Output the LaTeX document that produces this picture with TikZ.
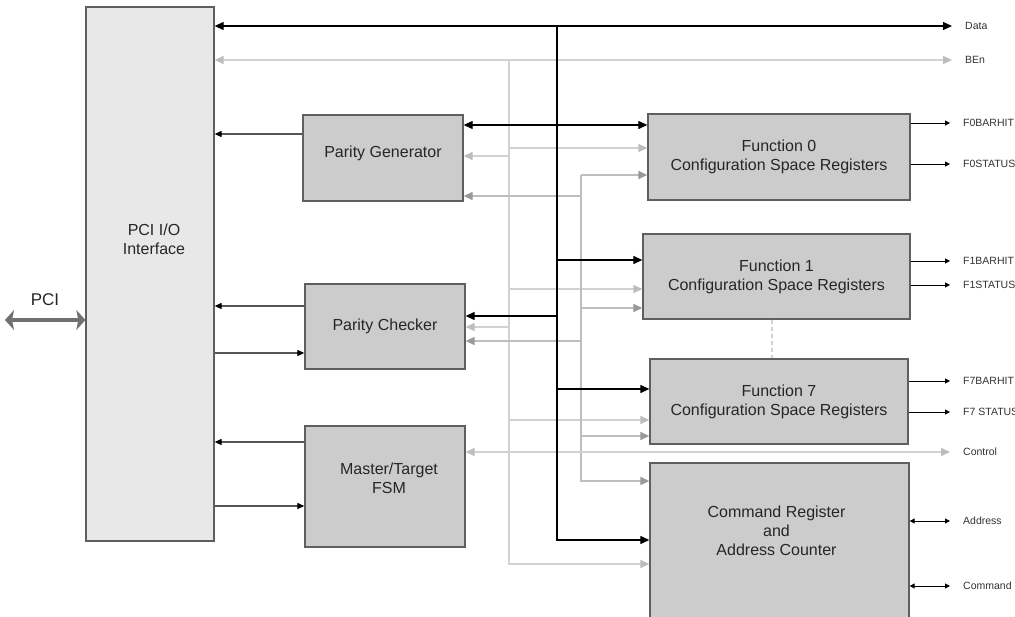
\documentclass[tikz,border=0pt]{standalone}
\usepackage{fontspec}
\setmainfont{Liberation Sans}
\usetikzlibrary{arrows, arrows.meta}
\usetikzlibrary{positioning}
\definecolor{boxgray}{HTML}{CCCCCC}
\definecolor{iogray}{HTML}{E8E8E8}
\definecolor{edgegray}{HTML}{5F5F5F}
\definecolor{wiregray}{HTML}{555555}
\definecolor{bengray}{HTML}{D2D2D2}
\definecolor{bentip}{HTML}{BDBDBD}
\definecolor{midgray}{HTML}{BEBEBE}
\definecolor{midtip}{HTML}{999999}
\definecolor{pcigray}{HTML}{707070}

\begin{document}
\begin{tikzpicture}[x=1pt, y=-1pt,
  blk/.style={draw=edgegray, line width=1.3pt, fill=boxgray, inner sep=0pt, align=center, font=\fontsize{16}{19}\selectfont, text=black!85},
  txt/.style={align=center, font=\fontsize{16}{19}\selectfont, text=black!85},
  sig/.style={anchor=west, inner xsep=13pt, inner ysep=0pt, font=\fontsize{10.5}{12}\selectfont, text=black!80},
  bk/.style={black, line width=1.2pt, >={Triangle[length=9pt,width=8pt]}},
  io/.style={wiregray, line width=1.2pt, >={Triangle[length=7pt,width=6pt,color=black]}},
  ln/.style={bengray, line width=1.5pt, >={Triangle[length=9pt,width=8pt,color=bentip]}},
  mdl/.style={midgray, line width=1.5pt, >={Triangle[length=9pt,width=8pt,color=midtip]}},
  outw/.style={black, line width=1pt, >={Triangle[length=5pt,width=5pt]}},
  pcil/.style={pcigray, line width=4.5pt, >={Stealth[length=9pt,width=20pt,inset=2pt]}}
]
\useasboundingbox[fill=white] (0,0) rectangle (1015,616);

\node[blk, fill=iogray, minimum width=128pt, minimum height=534pt] (pciio) at (150,274) {};
\node[blk, minimum width=160pt, minimum height=86pt] (pgen) at (383,158) {};
\node[blk, minimum width=160pt, minimum height=85pt] (pchk) at (385,326.5) {Parity Checker};
\node[blk, minimum width=160pt, minimum height=121pt] (fsm) at (385,486.5) {};
\node[blk, minimum width=262pt, minimum height=86pt] (fn0) at (779,157) {Function 0\\Configuration Space Registers};
\node[blk, minimum width=267pt, minimum height=85pt] (fn1) at (776.5,276.5) {Function 1\\Configuration Space Registers};
\node[blk, minimum width=258pt, minimum height=85pt] (fn7) at (779,401.5) {Function 7\\Configuration Space Registers};
\node[blk, minimum width=259pt, minimum height=162pt] (cmdreg) at (779.5,544) {};

\node[txt] (piotext) at ([xshift=4,yshift=35]pciio.center) {PCI I/O\\Interface};
\node[txt] (pgentext) at ([yshift=5]pgen.center) {Parity Generator};
\node[txt] (fsmtext) at ([xshift=4,yshift=8]fsm.center) {Master/Target\\FSM};
\node[txt] (cmdtext) at ([xshift=-3,yshift=13]cmdreg.center) {Command Register\\and\\Address Counter};

\node[txt, font=\fontsize{17}{20}\selectfont] (pci) at (45,300) {PCI};
\coordinate (pciend) at (5,320);
\draw[pcil,<->] (pciend) -- (pciend -| pciio.west);

\node[sig] (data) at (952,26) {Data};
\node[sig] (ben) at (952,60) {BEn};
\node[sig] (f0bar) at (950,123) {F0BARHIT};
\node[sig] (f0st) at (950,164) {F0STATUS};
\node[sig] (f1bar) at (950,261) {F1BARHIT};
\node[sig] (f1st) at (950,285) {F1STATUS};
\node[sig] (f7bar) at (950,381) {F7BARHIT};
\node[sig] (f7st) at (950,412) {F7 STATUS};
\node[sig] (ctrl) at (950,452) {Control};
\node[sig] (addr) at (950,521) {Address};
\node[sig] (cmd) at (950,586) {Command};

\draw[dashed, bengray, line width=1.2pt, dash pattern=on 4pt off 3pt] ([xshift=-4.5]fn1.south) -- ([xshift=-4.5]fn1.south |- fn7.north);

\draw[ln,<->] (pciio.east |- ben) -- (ben.west);
\coordinate (bbus) at (509,60);
\draw[ln,->] (bbus) |- ([yshift=-20]cmdreg.west);
\draw[ln,->] ([yshift=9]fn0.west -| bbus) -- ([yshift=9]fn0.west);
\draw[ln,->] ([yshift=2]pgen.east -| bbus) -- ([yshift=2]pgen.east);
\draw[ln,->] ([yshift=-12.5]fn1.west -| bbus) -- ([yshift=-12.5]fn1.west);
\draw[ln,->] ([yshift=-0.5]pchk.east -| bbus) -- ([yshift=-0.5]pchk.east);
\draw[ln,->] ([yshift=-18.5]fn7.west -| bbus) -- ([yshift=-18.5]fn7.west);

\coordinate (mbus) at (581,175);
\draw[mdl,->] (mbus) -- (mbus -| fn0.west);
\draw[mdl,->] (mbus) |- ([yshift=63]cmdreg.west);
\draw[mdl,->] ([yshift=-38]pgen.east -| mbus) -- ([yshift=-38]pgen.east);
\draw[mdl,->] ([yshift=-31.5]fn1.west -| mbus) -- ([yshift=-31.5]fn1.west);
\draw[mdl,->] ([yshift=-14.5]pchk.east -| mbus) -- ([yshift=-14.5]pchk.east);
\draw[mdl,->] ([yshift=-34.5]fn7.west -| mbus) -- ([yshift=-34.5]fn7.west);

\draw[ln,<->] ([yshift=34.5]fsm.east) -- (ctrl.west);

\draw[bk,<->] (pciio.east |- data) -- (data.west);
\coordinate (dbus) at (557,26);
\draw[bk,->] (dbus) |- ([yshift=4]cmdreg.west);
\draw[bk,<->] ([yshift=33]pgen.east) -- ([yshift=33]pgen.east -| fn0.west);
\draw[bk,->] ([yshift=16.5]fn1.west -| dbus) -- ([yshift=16.5]fn1.west);
\draw[bk,->] ([yshift=10.5]pchk.east -| dbus) -- ([yshift=10.5]pchk.east);
\draw[bk,->] ([yshift=12.5]fn7.west -| dbus) -- ([yshift=12.5]fn7.west);

\draw[io,->] ([yshift=24]pgen.west) -- ([yshift=24]pgen.west -| pciio.east);
\draw[io,->] ([yshift=20.5]pchk.west) -- ([yshift=20.5]pchk.west -| pciio.east);
\draw[io,->] ([yshift=-26.5]pchk.west -| pciio.east) -- ([yshift=-26.5]pchk.west);
\draw[io,->] ([yshift=44.5]fsm.west) -- ([yshift=44.5]fsm.west -| pciio.east);
\draw[io,->] ([yshift=-19.5]fsm.west -| pciio.east) -- ([yshift=-19.5]fsm.west);

\draw[outw,->] (fn0.east |- f0bar) -- (f0bar.west);
\draw[outw,->] (fn0.east |- f0st) -- (f0st.west);
\draw[outw,->] (fn1.east |- f1bar) -- (f1bar.west);
\draw[outw,->] (fn1.east |- f1st) -- (f1st.west);
\draw[outw,->] (fn7.east |- f7bar) -- (f7bar.west);
\draw[outw,->] (fn7.east |- f7st) -- (f7st.west);
\draw[outw,<->] (cmdreg.east |- addr) -- (addr.west);
\draw[outw,<->] (cmdreg.east |- cmd) -- (cmd.west);
\end{tikzpicture}
\end{document}
